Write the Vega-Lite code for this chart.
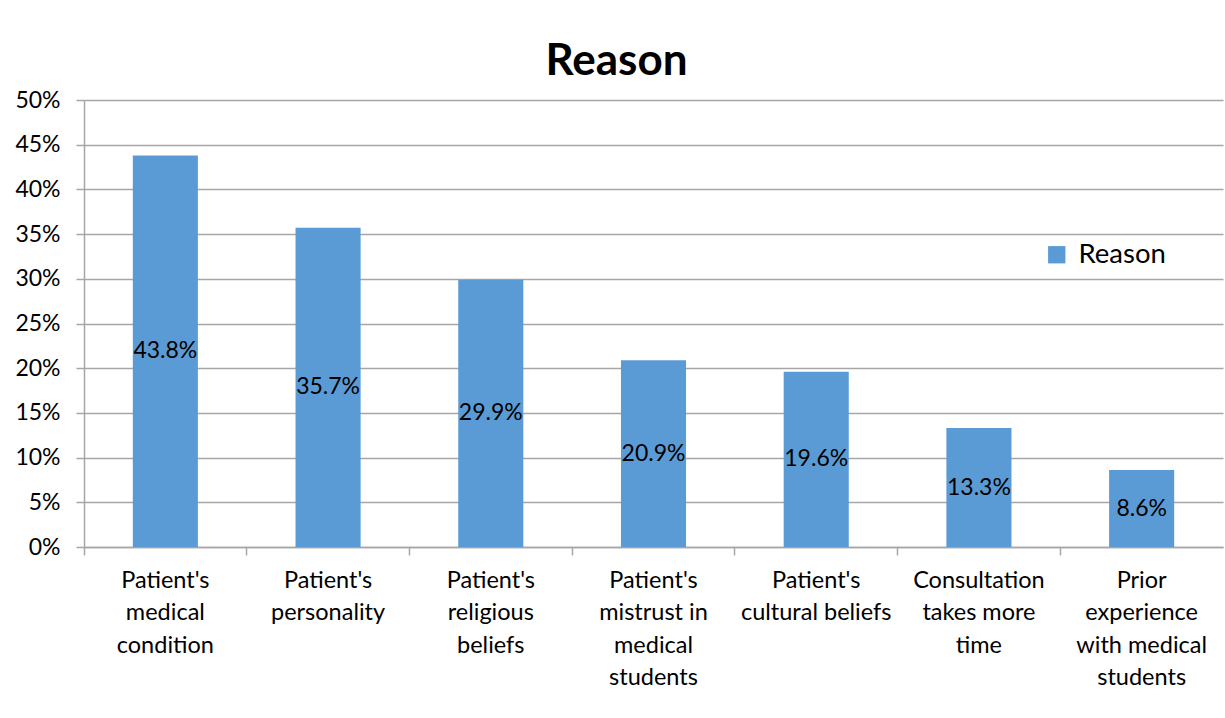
{
  "$schema": "https://vega.github.io/schema/vega-lite/v6.json",
  "width": 1139,
  "height": 447,
  "autosize": {"type": "none"},
  "padding": {"left": 84, "top": 100, "right": 2, "bottom": 171},
  "background": "white",
  "title": {
    "text": "Reason",
    "font": "Lato",
    "fontSize": 44,
    "fontWeight": "bold",
    "color": "#000000",
    "anchor": "middle",
    "dx": -37,
    "dy": 11,
    "offset": 16
  },
  "config": {
    "view": {"stroke": null},
    "font": "Lato"
  },
  "data": {
    "values": [
      {"reason": "Patient's medical condition", "value": 0.438},
      {"reason": "Patient's personality", "value": 0.357},
      {"reason": "Patient's religious beliefs", "value": 0.299},
      {"reason": "Patient's mistrust in medical students", "value": 0.209},
      {"reason": "Patient's cultural beliefs", "value": 0.196},
      {"reason": "Consultation takes more time", "value": 0.133},
      {"reason": "Prior experience with medical students", "value": 0.086}
    ]
  },
  "transform": [{"calculate": "datum.value / 2", "as": "mid"}],
  "encoding": {
    "x": {
      "field": "reason",
      "type": "nominal",
      "sort": null,
      "scale": {"paddingInner": 0, "paddingOuter": 0},
      "axis": {
        "title": null,
        "labelAngle": 0,
        "bandPosition": 0,
        "labelBaseline": "top",
        "labelPadding": 13,
        "labelFont": "Lato",
        "labelFontSize": 23.5,
        "labelColor": "#000000",
        "labelLineHeight": 32.5,
        "labelLimit": 0,
        "labelExpr": "({\"Patient's medical condition\": [\"Patient's\", \"medical\", \"condition\"], \"Patient's personality\": [\"Patient's\", \"personality\"], \"Patient's religious beliefs\": [\"Patient's\", \"religious\", \"beliefs\"], \"Patient's mistrust in medical students\": [\"Patient's\", \"mistrust in\", \"medical\", \"students\"], \"Patient's cultural beliefs\": [\"Patient's\", \"cultural beliefs\"], \"Consultation takes more time\": [\"Consultation\", \"takes more\", \"time\"], \"Prior experience with medical students\": [\"Prior\", \"experience\", \"with medical\", \"students\"]})[datum.label]",
        "domainColor": "#A6A6A6",
        "domainWidth": 1.5,
        "tickColor": "#A6A6A6",
        "tickWidth": 1.5,
        "tickSize": 8,
        "grid": false
      }
    }
  },
  "layer": [
    {
      "mark": {"type": "bar", "width": {"band": 0.4}},
      "encoding": {
        "y": {
          "field": "value",
          "type": "quantitative",
          "scale": {"domain": [0, 0.5]},
          "axis": {
            "title": null,
            "values": [0, 0.05, 0.1, 0.15, 0.2, 0.25, 0.3, 0.35, 0.4, 0.45, 0.5],
            "format": ".0%",
            "labelFont": "Lato",
            "labelFontSize": 23,
            "labelColor": "#000000",
            "labelPadding": 16,
            "gridColor": "#A6A6A6",
            "gridWidth": 1.5,
            "domainColor": "#A6A6A6",
            "domainWidth": 1.5,
            "tickColor": "#A6A6A6",
            "tickWidth": 1.5,
            "tickSize": 8
          }
        },
        "color": {
          "datum": "Reason",
          "type": "nominal",
          "scale": {"range": ["#5B9BD5"]},
          "legend": {
            "title": null,
            "orient": "none",
            "legendX": 959,
            "legendY": 141,
            "symbolType": "square",
            "symbolSize": 300,
            "symbolStrokeWidth": 0,
            "labelFont": "Lato",
            "labelFontSize": 27.5,
            "labelColor": "#000000",
            "labelOffset": 8
          }
        }
      }
    },
    {
      "mark": {"type": "text", "font": "Lato", "fontSize": 23, "color": "#000000", "baseline": "middle", "align": "center"},
      "encoding": {
        "y": {"field": "mid", "type": "quantitative"},
        "text": {"field": "value", "type": "quantitative", "format": ".1%"}
      }
    }
  ]
}
